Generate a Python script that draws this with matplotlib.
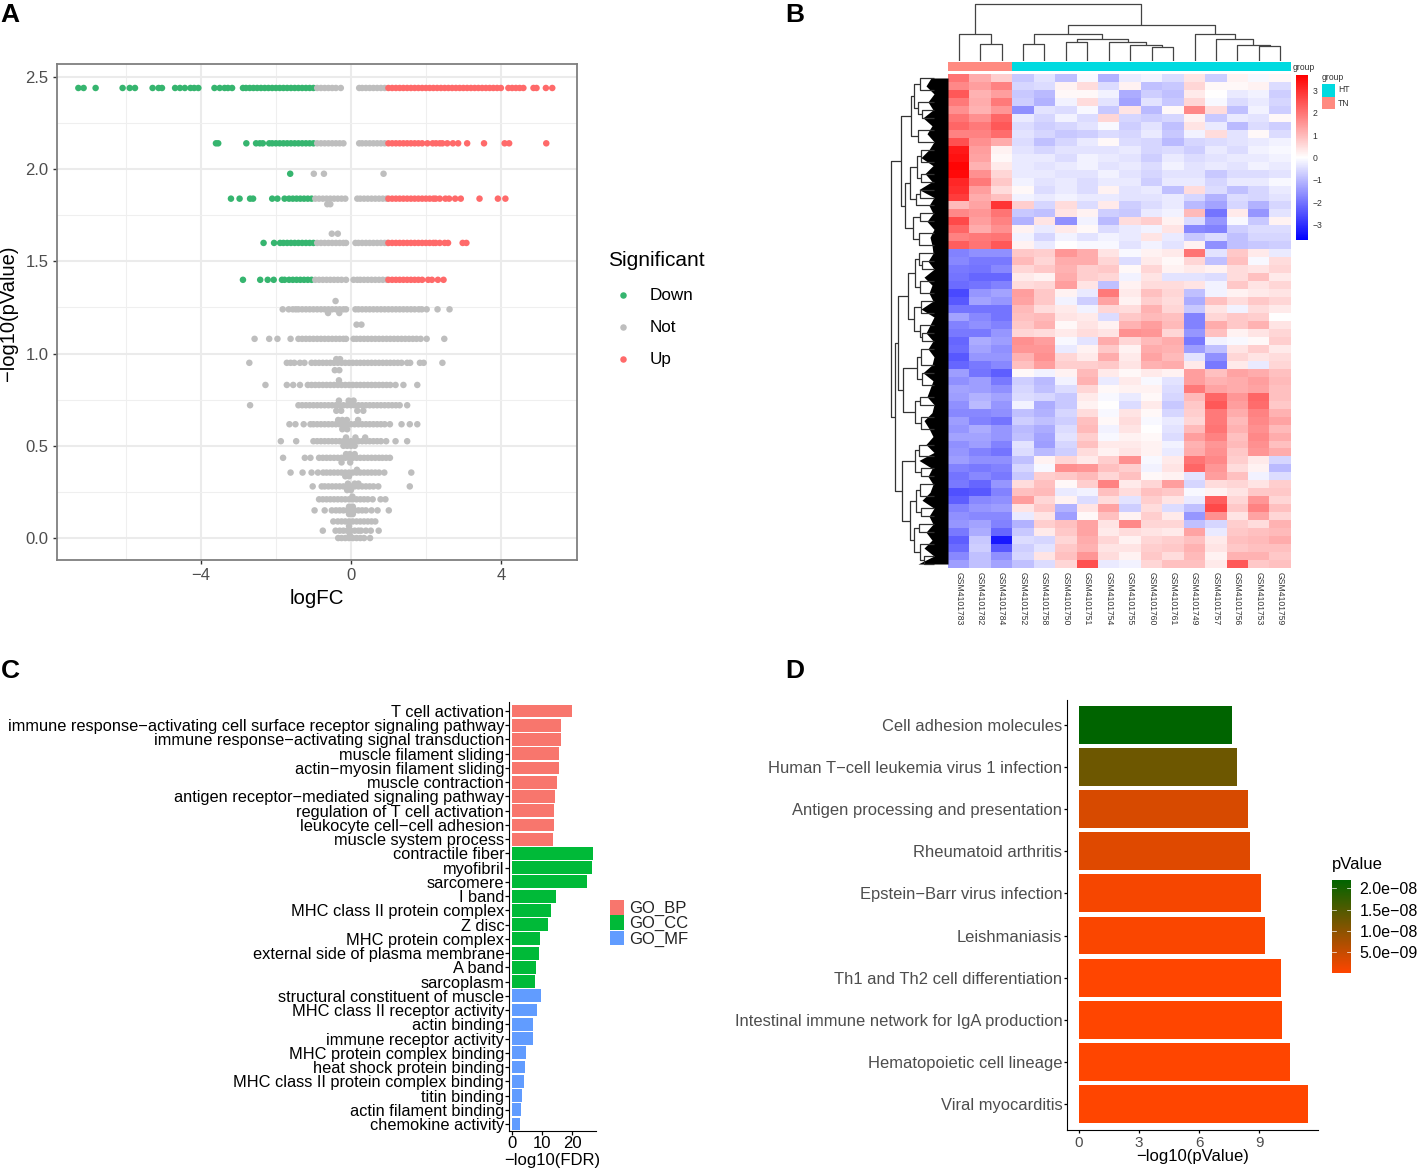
import numpy as np
import matplotlib
matplotlib.use('Agg')
import matplotlib.pyplot as plt
from matplotlib.collections import LineCollection
from matplotlib.colors import LinearSegmentedColormap, ListedColormap, Normalize
from matplotlib.cm import ScalarMappable
from matplotlib.patches import Rectangle

plt.rcParams['font.family'] = ['Liberation Sans', 'DejaVu Sans']

W, H = 1418, 1169

# Panel A, logFC values per -log10(pValue) level
volcano_y = [2.44, 2.14, 1.975, 1.84, 1.81, 1.65, 1.60, 1.40, 1.285, 1.24, 1.22, 1.157, 1.08,
             0.97, 0.95, 0.91, 0.855, 0.83, 0.745, 0.72, 0.69, 0.64, 0.617, 0.59, 0.545, 0.525,
             0.50, 0.455, 0.435, 0.41, 0.37, 0.355, 0.335, 0.295, 0.28, 0.26, 0.225, 0.21, 0.17,
             0.15, 0.13, 0.09, 0.065, 0.04, 0.015, 0.0]
volcano_x = [
    [-7.27, -7.13, -6.81, -6.09, -5.9, -5.76, -5.29, -5.13, -5.04, -4.69, -4.56, -4.43, -4.28, -4.18, -4.07,
     -3.64, -3.5, -3.37, -3.28, -3.17, -2.88, -2.8, -2.7, -2.6, -2.5, -2.4, -2.3, -2.2, -2.1, -2.0, -1.9,
     -1.8, -1.7, -1.6, -1.5, -1.4, -1.3, -1.2, -1.1, -1.0, -0.9, -0.8, -0.7, -0.6, -0.5, -0.4, -0.27,
     0.22, 0.3, 0.4, 0.5, 0.6, 0.7, 0.8, 0.9, 1.0, 1.1, 1.2, 1.3, 1.4, 1.5, 1.6, 1.7, 1.8, 1.9, 2.0, 2.1,
     2.2, 2.3, 2.4, 2.5, 2.6, 2.7, 2.8, 2.9, 3.0, 3.1, 3.2, 3.3, 3.4, 3.5, 3.6, 3.7, 3.8, 3.9, 4.0,
     4.2, 4.3, 4.4, 4.5, 4.6, 4.87, 4.95, 5.2, 5.37],
    [-3.6, -3.54, -2.79, -2.53, -2.43, -2.35, -2.18, -2.1, -2.0, -1.9, -1.8, -1.7, -1.6, -1.5, -1.4, -1.3,
     -1.2, -1.1, -1.0, -0.9, -0.8, -0.7, -0.6, -0.5, -0.4, -0.3, -0.2, 0.22, 0.3, 0.4, 0.5, 0.6, 0.7, 0.8,
     0.9, 1.0, 1.1, 1.2, 1.3, 1.4, 1.5, 1.6, 1.7, 1.8, 1.9, 2.04, 2.18, 2.27, 2.37, 2.44, 2.57, 2.72, 2.86,
     3.1, 3.55, 4.1, 4.22, 5.21],
    [-1.62, -0.99, -0.72, 0.87],
    [-3.2, -2.97, -2.69, -2.61, -2.1, -1.96, -1.77, -1.65, -1.55, -1.45, -1.35, -1.25, -1.15, -1.05, -0.95,
     -0.85, -0.75, -0.65, -0.55, -0.45, -0.35, -0.25, -0.15, 0.17, 0.25, 0.35, 0.45, 0.55, 0.65, 0.75, 0.85,
     0.95, 1.0, 1.1, 1.2, 1.3, 1.4, 1.5, 1.6, 1.7, 1.8, 1.9, 2.0, 2.1, 2.2, 2.26, 2.37, 2.52, 2.62, 2.78,
     2.93, 3.43, 3.92, 4.12],
    [-0.63, -0.55],
    [-0.51, -0.35],
    [-2.33, -2.05, -1.89, -1.8, -1.7, -1.6, -1.5, -1.4, -1.3, -1.2, -1.1, -1.0, -0.9, -0.8, -0.7, -0.6, -0.5,
     -0.4, -0.3, -0.2, -0.13, 0.12, 0.2, 0.3, 0.4, 0.5, 0.6, 0.7, 0.8, 0.9, 0.98, 1.0, 1.1, 1.2, 1.3, 1.4,
     1.5, 1.6, 1.7, 1.8, 1.9, 2.0, 2.1, 2.2, 2.26, 2.37, 2.5, 2.59, 2.98, 3.08],
    [-2.88, -2.42, -2.22, -2.06, -1.84, -1.77, -1.65, -1.55, -1.45, -1.35, -1.25, -1.15, -1.05, -0.95, -0.85,
     -0.75, -0.65, -0.55, -0.45, -0.35, -0.25, -0.13, 0.07, 0.17, 0.25, 0.35, 0.45, 0.55, 0.65, 0.75, 0.85,
     0.96, 1.0, 1.1, 1.2, 1.3, 1.4, 1.5, 1.6, 1.7, 1.8, 1.9, 2.06, 2.16, 2.32, 2.47],
    [-0.41],
    [-1.82, -1.66, -1.55, -1.47, -1.4, -1.3, -1.2, -1.1, -1.0, -0.9, -0.8, -0.7, -0.6, -0.5, -0.4, -0.3, -0.2,
     -0.13, 0.12, 0.2, 0.3, 0.4, 0.5, 0.6, 0.7, 0.8, 0.9, 1.0, 1.1, 1.2, 1.3, 1.4, 1.5, 1.6, 1.7, 1.81, 1.89,
     2.02, 2.31, 2.63],
    [-0.61, -0.31],
    [0.15, 0.28],
    [-2.57, -2.18, -1.96, -1.61, -1.4, -1.3, -1.2, -1.1, -1.0, -0.9, -0.8, -0.7, -0.6, -0.5, -0.4, -0.3, -0.2,
     -0.13, 0.07, 0.15, 0.25, 0.35, 0.45, 0.55, 0.65, 0.75, 0.85, 0.95, 1.05, 1.15, 1.25, 1.35, 1.45, 1.55,
     1.65, 1.75, 1.86, 2.02, 2.49],
    [-0.39, -0.29],
    [-2.71, -1.71, -1.61, -1.51, -1.36, -1.24, -1.05, -0.95, -0.85, -0.75, -0.65, -0.55, -0.45, -0.35, -0.25,
     -0.15, -0.05, 0.05, 0.15, 0.25, 0.35, 0.45, 0.55, 0.65, 0.75, 0.85, 0.95, 1.05, 1.15, 1.25, 1.35, 1.5,
     1.58, 1.84, 1.94, 2.44],
    [-0.43, -0.31],
    [-0.32],
    [-2.28, -1.71, -1.54, -1.36, -1.15, -1.05, -0.95, -0.85, -0.75, -0.65, -0.55, -0.45, -0.35, -0.25, -0.15,
     -0.05, 0.05, 0.15, 0.25, 0.35, 0.45, 0.55, 0.65, 0.75, 0.85, 0.95, 1.05, 1.19, 1.4, 1.77],
    [-0.32, -0.06, 0.07],
    [-2.69, -1.4, -1.3, -1.2, -1.1, -1.0, -0.9, -0.8, -0.7, -0.6, -0.5, -0.4, -0.3, -0.2, -0.1, 0.0, 0.1, 0.2,
     0.3, 0.4, 0.5, 0.6, 0.7, 0.8, 0.9, 1.0, 1.1, 1.2, 1.3, 1.5],
    [-0.39, -0.26, 0.17, 0.33],
    [-0.34, -0.23, -0.11, 0.19],
    [-1.64, -1.48, -1.26, -1.08, -1.0, -0.9, -0.8, -0.7, -0.6, -0.5, -0.4, -0.3, -0.2, -0.1, 0.0, 0.1, 0.2, 0.3,
     0.4, 0.5, 0.6, 0.7, 0.8, 0.9, 1.04, 1.35, 1.57, 1.77],
    [-0.23, -0.1],
    [-0.13, 0.12, 0.38],
    [-1.87, -1.46, -1.0, -0.9, -0.8, -0.7, -0.6, -0.5, -0.4, -0.3, -0.2, -0.1, 0.0, 0.1, 0.2, 0.3, 0.4, 0.5, 0.6,
     0.7, 0.8, 0.94, 1.19, 1.5],
    [-0.2, -0.1, 0.0, 0.1],
    [-0.13, -0.03, 0.1],
    [-1.81, -1.23, -1.08, -0.85, -0.75, -0.65, -0.55, -0.45, -0.35, -0.25, -0.15, -0.05, 0.05, 0.15, 0.25, 0.35,
     0.45, 0.55, 0.65, 0.75, 0.84, 0.94, 1.04],
    [-0.25, -0.02],
    [0.16],
    [-1.61, -1.29, -1.05, -0.88, -0.74, -0.65, -0.55, -0.45, -0.35, -0.25, -0.15, -0.05, 0.05, 0.15, 0.25, 0.35,
     0.45, 0.55, 0.65, 0.75, 0.89, 1.61],
    [-0.15, -0.05],
    [-0.08, 0.1, 0.2],
    [-1.02, -0.78, -0.7, -0.6, -0.5, -0.4, -0.3, -0.2, -0.1, 0.0, 0.1, 0.2, 0.3, 0.4, 0.5, 0.6, 0.73, 1.57],
    [-0.1, 0.0],
    [0.04],
    [-0.85, -0.75, -0.65, -0.55, -0.45, -0.35, -0.25, -0.15, -0.05, 0.05, 0.15, 0.25, 0.35, 0.45, 0.58, 0.79, 0.92],
    [-0.05, 0.05],
    [-0.97, -0.7, -0.51, -0.4, -0.3, -0.2, -0.1, 0.0, 0.1, 0.2, 0.3, 0.4, 0.55, 0.71, 1.01],
    [-0.05, 0.05],
    [-0.47, -0.35, -0.25, -0.15, -0.05, 0.05, 0.15, 0.25, 0.35, 0.45, 0.55, 0.65],
    [-0.05],
    [-0.75, -0.41, -0.3, -0.2, -0.1, 0.0, 0.1, 0.2, 0.27, 0.4, 0.53, 0.74],
    [-0.03],
    [-0.34, -0.25, -0.15, -0.05, 0.05, 0.15, 0.25, 0.35, 0.51],
]
volcano_labels = ['Down', 'Not', 'Up']
volcano_colors = ['#36B56F', '#BEBEBE', '#FF6A6A']

# Panel B
sample_names = ['GSM4101783', 'GSM4101782', 'GSM4101784', 'GSM4101752', 'GSM4101758', 'GSM4101750',
                'GSM4101751', 'GSM4101754', 'GSM4101755', 'GSM4101760', 'GSM4101761', 'GSM4101749',
                'GSM4101757', 'GSM4101756', 'GSM4101753', 'GSM4101759']
sample_groups = ['TN'] * 3 + ['HT'] * 13
heat_values = [
    [2.0, 1.2, 0.7, -0.8, -0.4, -0.9, -0.1, -1.1, -0.3, -0.2, -0.5, 0.4, -0.7, 0.2, -0.1, 0.1],
    [1.7, 1.4, 1.8, -0.6, -0.5, 0.2, 0.5, -0.5, 0.2, -0.9, -0.8, 0.6, 0.1, 0.1, 0.2, -0.5],
    [2.4, 1.1, 1.4, -0.8, -1.0, 0.1, 0.1, -0.2, -1.2, -0.7, -0.9, 0.3, 0.0, -0.3, -0.2, -0.7],
    [1.9, 1.2, 1.9, -0.7, -1.1, -0.2, 0.5, -0.4, -1.3, -0.4, -0.8, 0.6, -0.1, -0.5, -0.3, -0.6],
    [1.6, 1.1, 1.5, -1.6, -0.4, -0.5, -0.1, -0.8, 0.4, -1.0, 0.1, 1.7, 0.5, -0.9, -0.2, -0.7],
    [2.0, 1.6, 2.2, -0.3, -0.6, -0.2, -0.5, 0.6, -0.6, -0.7, -0.6, 0.2, -0.8, -0.3, -0.4, 0.1],
    [2.2, 1.9, 2.4, -0.5, -0.7, -0.6, -0.4, -0.1, -0.7, -0.4, -0.9, 0.4, -0.3, -1.0, -0.5, -0.7],
    [1.8, 1.8, 2.1, -0.4, -0.6, -0.8, -0.7, -0.5, -0.6, -0.3, -0.8, -0.2, 0.5, -0.4, 0.1, -0.5],
    [2.5, 1.6, 1.2, -0.5, -0.9, -0.6, -0.3, 0.1, -0.5, -0.6, -1.0, -0.6, -0.5, -0.4, -0.3, -0.2],
    [3.3, 1.4, 0.2, -0.4, -0.6, -0.4, -0.4, -0.4, -0.3, -0.6, -0.5, -0.7, -0.3, -0.5, -0.2, -0.1],
    [3.4, 1.3, 0.1, -0.3, -0.3, -0.5, -0.2, -0.3, -0.4, -0.7, -0.3, -0.5, -0.4, -0.3, -0.3, -0.2],
    [3.6, 1.1, 0.3, -0.3, -0.4, -0.3, -0.2, -0.4, -0.3, -0.5, -0.2, -0.4, -0.3, -0.4, -0.2, -0.3],
    [3.5, 1.6, 0.6, -0.3, -0.3, -0.4, -0.4, -0.2, -0.4, -0.6, -0.4, -0.4, -0.8, -0.5, -0.5, -0.4],
    [3.1, 1.9, 0.8, -0.2, -0.4, -0.3, -0.5, -0.3, -0.3, -0.7, -0.3, -0.3, -0.6, -0.3, -0.3, -0.1],
    [3.0, 1.4, 0.5, 0.1, -0.5, -0.3, -0.5, 0.2, -0.4, -0.3, -0.9, 0.5, -0.5, -0.9, -0.6, -0.3],
    [2.8, 1.2, 0.9, -0.2, -0.3, -0.2, -0.3, -0.3, -0.4, -0.4, -0.3, -0.6, -1.1, -0.5, -0.6, -0.4],
    [1.0, 1.3, 2.9, 0.7, -0.6, 0.5, -0.5, 0.3, -0.7, -0.5, -0.3, -1.0, -1.3, -0.6, -1.1, -0.6],
    [1.7, 1.5, 2.0, -0.8, -0.9, 0.4, 0.2, -0.7, -0.8, -0.3, -0.2, 1.0, -2.0, 0.3, -1.5, -0.4],
    [2.6, 1.4, 1.8, -1.1, 0.4, -1.6, -0.2, -1.0, 0.5, 0.7, 0.2, -0.5, -1.5, -0.1, -0.8, 0.2],
    [2.2, 1.2, 1.6, 0.2, -0.3, 0.3, 0.1, -0.5, -0.3, -0.2, 0.4, -1.7, -1.8, -0.7, -0.5, -0.5],
    [1.8, 1.9, 2.0, -0.2, -0.6, -0.2, -0.4, -0.2, -0.3, 0.4, -0.3, -0.8, -0.5, -0.9, -0.6, -0.6],
    [2.3, 2.0, 2.4, 0.2, -0.3, 0.0, -0.1, -0.1, -0.4, -0.2, -0.4, 0.2, -1.6, -0.9, -0.8, -0.7],
    [-1.8, -1.6, -1.6, 0.8, 0.7, 1.5, 1.2, 0.4, -0.1, 0.2, 0.3, 2.0, -0.4, 0.8, 0.3, -0.3],
    [-1.7, -1.9, -1.9, 1.0, 0.6, 1.2, 1.2, 0.6, -0.5, 0.3, 0.1, 0.6, -0.9, 0.9, -0.1, 0.5],
    [-1.9, -2.0, -1.7, 0.6, 0.8, 1.1, 0.7, 0.8, 0.1, 0.6, 0.2, 0.3, 0.2, 0.5, 0.4, 0.6],
    [-2.0, -2.2, -2.2, 0.3, 0.2, 1.2, 0.7, 0.6, -0.2, 0.4, -0.4, -0.4, -0.5, 0.5, 0.9, 0.3],
    [-2.1, -2.0, -1.8, 0.5, 0.6, 1.4, 0.4, -0.9, 0.2, 0.5, 0.5, 0.4, -0.2, 0.8, 0.4, 0.6],
    [-2.6, -1.5, -1.3, 1.4, 0.8, 0.2, -0.3, 1.9, 0.3, 0.9, 0.6, -0.9, -0.2, 0.2, 0.3, 0.4],
    [-2.4, -1.3, -1.5, 1.3, 0.8, -0.2, -0.7, 1.3, 0.2, 0.7, 0.5, -1.2, 0.9, 0.5, 0.8, 0.6],
    [-2.0, -2.0, -2.0, 1.0, 0.5, 0.3, -0.2, 0.6, 0.5, 1.1, 0.6, -0.8, 0.4, -0.2, 0.5, 0.3],
    [-1.3, -1.7, -2.0, 0.9, 1.0, 0.4, 0.3, -0.5, 0.8, 1.0, 0.9, -1.8, 0.6, 0.8, 0.7, 0.0],
    [-1.8, -1.6, -1.8, 0.8, 1.1, 0.1, 0.4, 0.2, 1.1, 1.4, 1.0, -1.8, 1.2, 0.8, 1.1, 0.4],
    [-1.9, -1.9, -1.5, 0.6, 0.5, 0.3, 0.5, 0.4, 1.6, 1.5, 0.6, -1.5, 0.9, 0.2, 0.4, 0.6],
    [-2.2, -1.2, -1.4, 1.6, 1.4, -0.1, -0.4, 1.2, 0.6, 1.0, 1.2, -1.9, -0.2, -0.1, 0.1, 0.7],
    [-2.1, -1.3, -1.6, 1.5, 1.5, -0.3, 0.2, 0.8, 0.2, 1.2, 1.1, -1.4, -0.9, 0.4, 0.7, 0.3],
    [-2.4, -1.5, -1.5, 1.1, 1.6, 0.6, 0.3, 1.2, 0.3, 1.3, 1.0, -0.4, -1.6, 0.6, 0.4, 0.5],
    [-2.2, -1.9, -1.7, 0.9, 1.4, 0.7, 0.7, 0.8, 0.4, 1.1, 1.2, 0.3, -1.9, 0.3, -0.3, 0.6],
    [-1.4, -2.0, -2.3, 0.1, -0.2, 0.2, 1.0, 0.3, 0.1, 0.3, 0.2, 1.4, 0.9, 1.3, 1.2, 0.9],
    [-1.6, -1.4, -1.9, -0.7, -1.0, -0.2, 1.1, -0.3, 0.3, -0.1, -0.4, 1.4, 1.1, 1.2, 1.4, 1.0],
    [-1.3, -1.4, -1.6, -0.6, -0.9, -0.5, 0.6, 0.1, 0.2, 0.2, -0.5, 1.9, 1.3, 1.2, 1.3, 0.9],
    [-1.4, -1.1, -1.3, -0.5, -0.6, -0.8, 0.3, -0.1, -0.3, 0.1, -0.6, 1.0, 2.2, 1.5, 2.2, 0.9],
    [-1.6, -1.0, -1.5, -0.2, -1.2, -0.8, 0.2, 0.0, -0.5, 0.3, -0.8, 0.8, 2.4, 1.4, 2.1, 0.8],
    [-1.7, -1.7, -1.6, -0.9, -1.1, -0.6, 0.5, -0.1, 0.4, 0.1, -0.6, 0.7, 1.9, 1.2, 1.8, 1.1],
    [-1.4, -1.8, -2.0, -0.7, -0.9, -0.7, 0.9, 0.1, 0.5, -0.1, -0.3, 0.6, 1.9, 1.0, 1.7, 1.3],
    [-1.5, -1.2, -1.5, -1.0, -1.2, -0.5, 1.0, -0.2, 0.4, 0.0, -0.4, 1.0, 2.0, 1.1, 1.6, 1.0],
    [-1.3, -1.3, -1.5, -0.9, -1.3, -0.4, 0.7, -0.1, 0.2, 0.1, -0.5, 1.4, 1.8, 0.9, 1.7, 1.2],
    [-1.6, -1.4, -1.8, -0.4, -1.4, -0.6, 0.9, 0.3, 0.3, 0.2, -0.2, 1.1, 1.5, 1.0, 1.6, 0.9],
    [-1.5, -1.8, -2.0, -0.5, -1.0, -0.7, 0.5, 0.2, 0.4, 0.2, -0.3, 1.2, 1.6, 0.8, 1.5, 1.2],
    [-1.4, -1.6, -1.6, -0.9, 0.2, 0.6, 0.3, 0.7, 1.6, -0.1, 0.3, 2.0, 1.7, 0.7, 0.3, -0.6],
    [-1.8, -1.9, -1.8, -0.6, -0.1, 1.6, 1.5, 0.9, 0.7, -0.2, 0.4, 2.2, 1.5, 0.5, 0.2, -1.0],
    [-2.0, -1.7, -1.9, -0.8, 0.7, 0.8, 1.0, 0.6, 0.9, 0.1, 0.2, -0.4, 1.4, 0.9, -0.2, -0.5],
    [-1.9, -2.2, -1.5, 0.5, 0.9, 0.1, 0.7, 1.8, 0.3, 0.6, 1.4, -0.6, 0.5, 0.6, 0.4, 0.7],
    [-2.5, -2.4, -1.8, 0.9, 1.0, -0.3, -0.2, 0.9, 0.5, 0.9, 0.8, -0.1, 0.2, 0.4, 0.8, 0.8],
    [-2.3, -1.7, -1.6, 1.4, 0.6, 0.2, -0.5, 0.5, -0.4, 0.7, 0.4, -0.3, 2.3, 0.6, 1.5, 0.6],
    [-1.8, -1.5, -1.4, 0.4, 0.8, -1.1, 0.4, 1.3, -0.7, 0.5, -0.5, -0.9, 2.6, 0.8, 1.8, 0.9],
    [-1.6, -1.7, -1.7, -0.3, 0.4, -1.4, 0.1, 0.9, 0.2, 0.7, 0.3, -1.5, 1.6, 0.4, 1.3, 0.6],
    [-1.5, -1.3, -1.8, -1.1, 0.7, 0.9, 1.3, 0.4, 1.7, 0.6, 0.6, -0.9, -0.6, 0.7, 0.5, 1.1],
    [-1.9, -1.2, -2.2, -0.8, 0.3, 0.8, 1.3, 0.3, 0.5, 0.4, 0.3, 1.3, -0.3, 0.8, 0.9, 1.0],
    [-2.3, -0.8, -3.3, -0.5, -0.6, 0.6, 1.2, 0.6, 0.2, 0.6, 0.7, 0.9, 0.3, 0.9, 1.0, 1.2],
    [-2.1, -0.7, -2.4, -0.7, -0.4, 0.8, 1.1, 0.4, 0.4, 0.7, 0.8, 1.1, 0.4, 0.8, 0.9, 0.9],
    [-1.7, -0.9, -1.6, -0.6, 0.4, 0.9, 1.5, 0.5, 0.2, 0.8, 0.5, 1.0, 0.2, 1.1, 1.1, 0.8],
    [-1.4, -0.9, -1.3, -0.9, -0.5, 0.6, 2.5, -0.3, -0.2, 0.6, 0.9, 0.9, 0.3, 2.4, 0.8, 0.9],
]
col_tree = ((0, (1, 2, 50), 82),
            (((3, 4, 52), ((5, 6, 58), (7, (8, (9, 10, 43), 49), 58), 65), 82),
             (11, (12, (13, (14, 15, 44), 48), 67), 82), 107), 172)
red_tree = ((((0, 1.5, 28), (3, (4, 5, 26), 30), 34), (6.5, 8, 30), 37),
            ((((9, 10.5, 27), (12, 13, 27), 31), ((14, 15, 28), 16, 32), 38),
             ((17, 18, 28), (19.5, 21, 29), 35), 43), 47)
blue_tree = ((((22, (23, 24, 26), 29), (25.5, 27, 28), 33), ((28, 29.5, 27), (31, (32, 33, 26), 28), 34), 40),
             (((34, 36, 27), (37, 38.5, 26), 31), ((40, 41, 28), (42.5, 44, 27), 33), 45), 50)
blue_tree = (blue_tree,
             (((46, 47.5, 29), (49, 50, 27), 33),
              (((51, 52.5, 28), (54, 55, 27), 32), ((56, 57, 29), (58.5, (60, 61, 24), 28), 34), 38), 46), 53)
row_tree = (red_tree, blue_tree, 57)
row_leaf_edge = [17, 22, 14, 20, 15, 25, 16, 21, 14, 19, 27, 15, 23, 16, 29, 14, 19, 15, 21, 14, 18, 16,
                 15, 20, 14, 24, 16, 19, 15, 27, 14, 18, 22, 15, 20, 14, 16, 25, 15, 18, 21, 14, 16, 24,
                 19, 15, 22, 14, 29, 16, 20, 15, 18, 26, 14, 19, 15, 22, 16, 24, 14, 30]
heat_ticks = [3, 2, 1, 0, -1, -2, -3]

# Panel C
go_terms = ['T cell activation', 'immune response\u2212activating cell surface receptor signaling pathway',
            'immune response\u2212activating signal transduction', 'muscle filament sliding',
            'actin\u2212myosin filament sliding', 'muscle contraction',
            'antigen receptor\u2212mediated signaling pathway', 'regulation of T cell activation',
            'leukocyte cell\u2212cell adhesion', 'muscle system process', 'contractile fiber', 'myofibril',
            'sarcomere', 'I band', 'MHC class II protein complex', 'Z disc', 'MHC protein complex',
            'external side of plasma membrane', 'A band', 'sarcoplasm', 'structural constituent of muscle',
            'MHC class II receptor activity', 'actin binding', 'immune receptor activity',
            'MHC protein complex binding', 'heat shock protein binding', 'MHC class II protein complex binding',
            'titin binding', 'actin filament binding', 'chemokine activity']
go_fdr = [20, 16.3, 16.2, 15.8, 15.7, 15, 14.2, 14, 13.9, 13.7, 27, 26.6, 25, 14.6, 13, 12, 9.3, 9, 8, 7.5,
          9.7, 8.2, 7, 7, 4.7, 4.4, 4, 3.4, 3, 2.7]
go_class = ['GO_BP'] * 10 + ['GO_CC'] * 10 + ['GO_MF'] * 10
go_names = ['GO_BP', 'GO_CC', 'GO_MF']
go_colors = ['#F8766D', '#00BA38', '#619CFF']

# Panel D
kegg_terms = ['Cell adhesion molecules', 'Human T\u2212cell leukemia virus 1 infection',
              'Antigen processing and presentation', 'Rheumatoid arthritis', 'Epstein\u2212Barr virus infection',
              'Leishmaniasis', 'Th1 and Th2 cell differentiation', 'Intestinal immune network for IgA production',
              'Hematopoietic cell lineage', 'Viral myocarditis']
kegg_p = [2.2e-8, 1.26e-8, 3.5e-9, 2.8e-9, 8e-10, 5e-10, 8e-11, 7e-11, 2.8e-11, 3.5e-12]
kegg_ticks = [2.0e-8, 1.5e-8, 1.0e-8, 5.0e-9]
kegg_tick_labels = ['2.0e\u221208', '1.5e\u221208', '1.0e\u221208', '5.0e\u221209']


def px_axes(fig, left, top, right, bottom):
    """Axes placed by reference pixel edges"""
    return fig.add_axes([left / W, 1 - bottom / H, (right - left) / W, (bottom - top) / H])


def tree_segments(node, segs, leaf_h=0, horizontal=False):
    """Walk a nested (left, right, height) tree, return (position, height)"""
    if not isinstance(node, tuple):
        return node, leaf_h
    p1, h1 = tree_segments(node[0], segs, leaf_h, horizontal)
    p2, h2 = tree_segments(node[1], segs, leaf_h, horizontal)
    h = node[2]
    path = [(p1, h1), (p1, h), (p2, h), (p2, h2)]
    if horizontal:
        path = [(b, a) for a, b in path]
    segs.append(path)
    return (p1 + p2) / 2, h


fig = plt.figure(figsize=(W / 100, H / 100), dpi=100)
page = fig.add_axes([0, 0, 1, 1], zorder=5)
page.set_xlim(0, W)
page.set_ylim(H, 0)
page.axis('off')

for letter, x, y in [('A', 0, 15), ('B', 785, 15), ('C', 1, 671), ('D', 785, 671)]:
    page.text(x, y, letter, fontsize=19, fontweight='bold', va='center', ha='left')

# ---- A: volcano
ax = px_axes(fig, 57, 64, 577, 560)
xs, ys, cs = [], [], []
for y, row in zip(volcano_y, volcano_x):
    for x in row:
        if y > 1.3 and x <= -1:
            c = volcano_colors[0]
        elif y > 1.3 and x >= 1:
            c = volcano_colors[2]
        else:
            c = volcano_colors[1]
        xs.append(x)
        ys.append(y)
        cs.append(c)
ax.scatter(xs, ys, c=cs, s=22, linewidths=0, zorder=3)
ax.set_xlim(-7.84, 6.03)
ax.set_ylim(-0.119, 2.57)
ax.set_xticks([-4, 0, 4])
ax.set_xticks([-6, -2, 2], minor=True)
ax.set_yticks([0, 0.5, 1.0, 1.5, 2.0, 2.5])
ax.set_yticklabels(['0.0', '0.5', '1.0', '1.5', '2.0', '2.5'])
ax.set_yticks([0.25, 0.75, 1.25, 1.75, 2.25], minor=True)
ax.grid(True, which='major', color='#EBEBEB', lw=1.5)
ax.grid(True, which='minor', color='#EFEFEF', lw=0.8)
ax.set_axisbelow(True)
ax.tick_params(which='minor', length=0)
ax.tick_params(which='major', length=3, width=1, color='#333333', labelsize=12, labelcolor='#4D4D4D', pad=3)
for s in ax.spines.values():
    s.set_color('#7F7F7F')
    s.set_linewidth(1.3)
page.text(317, 598, 'logFC', fontsize=14.8, ha='center', va='center')
page.text(9, 313, '\u2212log10(pValue)', fontsize=14.5, rotation=90, ha='center', va='center')
page.text(608, 260, 'Significant', fontsize=15, ha='left', va='center')
for name, color, y in zip(volcano_labels, volcano_colors, [295, 327, 359]):
    page.scatter([623], [y], c=color, s=22, linewidths=0)
    page.text(650, y + 0.5, name, fontsize=12.3, ha='left', va='center')

# ---- B: heatmap
heat = np.array(heat_values)
n_rows, n_cols = heat.shape
blue_white_red = LinearSegmentedColormap.from_list('bwr2', ['#0000FF', '#FFFFFF', '#FF0000'])
heat_norm = Normalize(-3.67, 3.67)
ax = px_axes(fig, 948, 74, 1291, 568)
ax.imshow(heat, cmap=blue_white_red, norm=heat_norm, aspect='auto', interpolation='nearest')
ax.axis('off')

ax = px_axes(fig, 948, 62, 1291, 71)
group_codes = np.array([[0 if g == 'TN' else 1 for g in sample_groups]])
ax.imshow(group_codes, cmap=ListedColormap(['#FF8A80', '#00DAE0']), aspect='auto', interpolation='nearest')
ax.axis('off')

ax = px_axes(fig, 948, 3, 1291, 61)
segs = []
tree_segments(col_tree, segs)
ax.add_collection(LineCollection(segs, colors='#444444', linewidths=0.9))
ax.set_xlim(-0.5, n_cols - 0.5)
ax.set_ylim(0, 174)
ax.axis('off')

ax = px_axes(fig, 888, 74, 948, 568)
segs = []
tree_segments(row_tree, segs, leaf_h=14, horizontal=True)
ax.add_collection(LineCollection(segs, colors='#333333', linewidths=0.9))
row_pos = np.arange(n_rows)
ax.fill_betweenx(row_pos, row_leaf_edge, 0, color='black', linewidth=0)
ax.set_xlim(60, 0)
ax.set_ylim(n_rows - 0.5, -0.5)
ax.axis('off')

for i, name in enumerate(sample_names):
    page.text(948 + (i + 0.5) * 343 / n_cols, 572, name, fontsize=6.2, rotation=270, ha='center', va='top',
              color='#333333')

cax = px_axes(fig, 1296, 75, 1308, 240)
fig.colorbar(ScalarMappable(norm=heat_norm, cmap=blue_white_red), cax=cax)
cax.set_yticks(heat_ticks)
cax.tick_params(length=0, labelsize=6.2, pad=3, labelcolor='#333333')
cax.spines[:].set_visible(False)
page.text(1293, 67, 'group', fontsize=6.2, ha='left', va='center', color='#333333')
page.text(1322, 78, 'group', fontsize=6.2, ha='left', va='center', color='#333333')
page.add_patch(Rectangle((1322, 84), 13, 12.5, color='#00DAE0', lw=0))
page.add_patch(Rectangle((1322, 96.5), 13, 12.5, color='#FF8A80', lw=0))
page.text(1338, 90, 'HT', fontsize=6.2, ha='left', va='center', color='#333333')
page.text(1338, 103, 'TN', fontsize=6.2, ha='left', va='center', color='#333333')

# ---- C: GO bars
ax = px_axes(fig, 509, 702, 596, 1131)
y_pos = np.arange(len(go_terms))
ax.barh(y_pos, go_fdr, height=0.9, color=[go_colors[go_names.index(c)] for c in go_class])
ax.set_yticks(y_pos)
ax.set_yticklabels(go_terms, fontsize=11.8)
ax.set_ylim(29.49, -0.63)
ax.set_xlim(-1, 28)
ax.set_xticks([0, 10, 20])
ax.tick_params(axis='x', length=2.7, width=0.9, labelsize=12, pad=1)
ax.tick_params(axis='y', length=2.7, width=0.9, pad=0.8)
ax.spines[['top', 'right']].set_visible(False)
page.text(552, 1160, '\u2212log10(FDR)', fontsize=12, ha='center', va='center')
for i, (name, color) in enumerate(zip(go_names, go_colors)):
    y = 900 + i * 15.3
    page.add_patch(Rectangle((610, y), 14, 14.5, color=color, lw=0))
    page.text(629, y + 8.5, name, fontsize=12, ha='left', va='center', color='#222222')

# ---- D: KEGG bars
ramp = LinearSegmentedColormap.from_list('p_ramp', ['#FF4500', '#006400'])
p_norm = Normalize(min(kegg_p), max(kegg_p))
ax = px_axes(fig, 1067, 700, 1318, 1130)
y_pos = np.arange(len(kegg_terms))
kegg_log = [-np.log10(p) for p in kegg_p]
ax.barh(y_pos, kegg_log, height=0.9, color=[ramp(p_norm(p)) for p in kegg_p])
ax.set_yticks(y_pos)
ax.set_yticklabels(kegg_terms, fontsize=11.85, color='#4D4D4D')
ax.set_ylim(9.62, -0.594)
ax.set_xlim(-0.6, 11.95)
ax.set_xticks([0, 3, 6, 9])
ax.tick_params(axis='x', length=2.5, width=0.9, labelsize=11, labelcolor='#4D4D4D', pad=2)
ax.tick_params(axis='y', length=2.5, width=0.9, pad=0.8)
ax.spines[['top', 'right']].set_visible(False)
page.text(1193, 1157, '\u2212log10(pValue)', fontsize=12, ha='center', va='center')
page.text(1332, 864, 'pValue', fontsize=12, ha='left', va='center')

cax = px_axes(fig, 1332, 880, 1351, 973)
fig.colorbar(ScalarMappable(norm=p_norm, cmap=ramp), cax=cax)
cax.set_yticks(kegg_ticks)
cax.set_yticklabels(kegg_tick_labels)
cax.tick_params(length=0, labelsize=11.5, pad=6)
cax.spines[:].set_visible(False)
for t in kegg_ticks:
    cax.plot([0, 0.2], [t, t], color='white', lw=0.5, transform=cax.get_yaxis_transform())
    cax.plot([0.8, 1], [t, t], color='white', lw=0.5, transform=cax.get_yaxis_transform())

fig.savefig('out.png', dpi=100)
